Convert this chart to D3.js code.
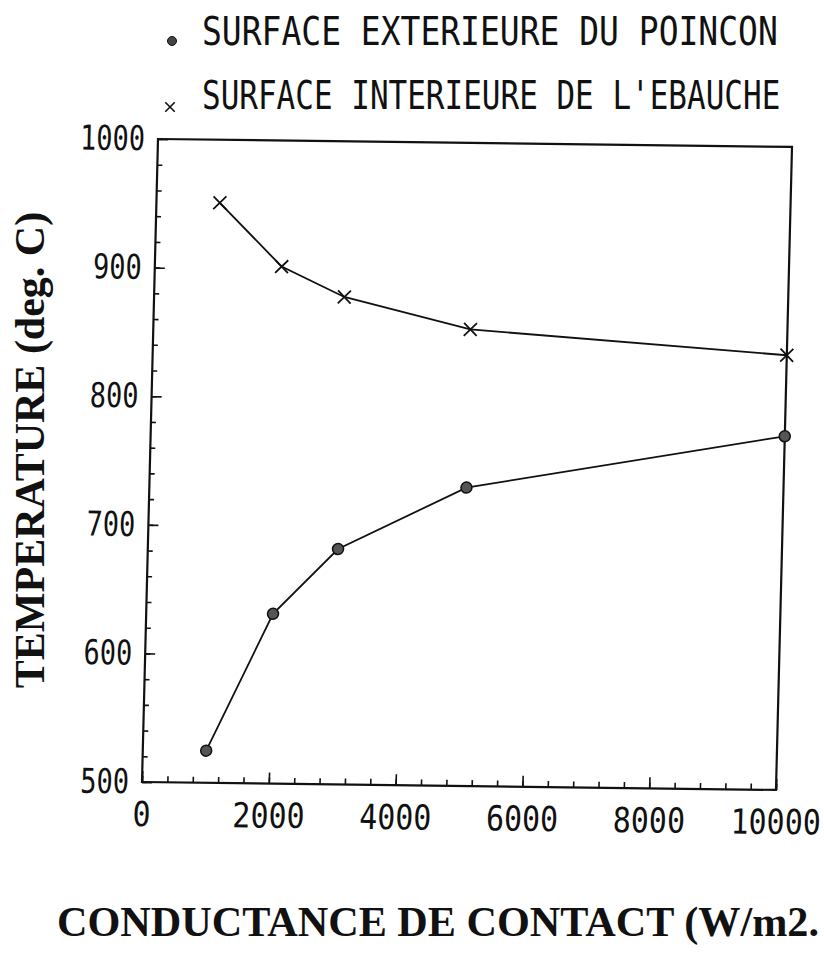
<!DOCTYPE html>
<html lang="fr">
<head>
<meta charset="UTF-8">
<title>Temperature vs conductance de contact</title>
<script src="https://cdn.jsdelivr.net/npm/d3@7"></script>
<style>
  body { margin: 0; background: #fff; }
  .plotter { font-family: "DejaVu Sans Mono", monospace; fill: #111; }
  .serif { font-family: "Liberation Serif", "Times New Roman", serif; font-weight: bold; fill: #111; }
</style>
</head>
<body>
<div id="chart"></div>
<script>
// data
const conductance = [1000, 2000, 3000, 5000, 10000];
const tempExterior = [525, 632, 683, 732, 775];   // surface exterieure du poincon
const tempInterior = [951, 902, 879, 855, 838];   // surface interieure de l'ebauche
const xTicks = [0, 2000, 4000, 6000, 8000, 10000];
const yTicks = [500, 600, 700, 800, 900, 1000];
const legendLabels = ["SURFACE EXTERIEURE DU POINCON", "SURFACE INTERIEURE DE L'EBAUCHE"];

const width = 824, height = 962;
const W = 634, H = 643;

const svg = d3.select("#chart").append("svg")
    .attr("width", width)
    .attr("height", height);

// the scan is a little skewed, so the plot frame is too
const plot = svg.append("g")
    .attr("transform", "matrix(1,0.0125,-0.0249,1,158,139)");

const x = d3.scaleLinear().domain([0, 10000]).range([0, W]);
const y = d3.scaleLinear().domain([500, 1000]).range([H, 0]);

// minor ticks
plot.append("g")
    .attr("transform", "translate(0," + H + ")")
    .call(d3.axisBottom(x).tickValues(d3.range(0, 10001, 400)).tickSize(-6).tickFormat(""))
    .call(g => g.select(".domain").remove());
plot.append("g")
    .call(d3.axisLeft(y).tickValues(d3.range(500, 1001, 20)).tickSize(-5).tickFormat(""))
    .call(g => g.select(".domain").remove());

// major ticks + labels (plotter font: narrow and tall)
const xAxis = plot.append("g")
    .attr("transform", "translate(0," + H + ")")
    .call(d3.axisBottom(x).tickValues(xTicks).tickSize(-11).tickPadding(17).tickFormat(d3.format("d")));
const yAxis = plot.append("g")
    .call(d3.axisLeft(y).tickValues(yTicks).tickSize(-10).tickPadding(13).tickFormat(d3.format("d")));

xAxis.select(".domain").remove();
yAxis.select(".domain").remove();
xAxis.selectAll("text")
    .attr("class", "plotter")
    .style("font-size", "30px")
    .attr("transform", "scale(1,1.15)");
yAxis.selectAll("text")
    .attr("class", "plotter")
    .style("font-size", "27px")
    .attr("transform", "scale(1,1.27)");
plot.selectAll(".tick line").attr("stroke", "#111").attr("stroke-width", 1.6);

// frame
plot.append("rect")
    .attr("width", W).attr("height", H)
    .attr("fill", "none")
    .attr("stroke", "#111")
    .attr("stroke-width", 2.2);

const line = d3.line()
    .x(d => x(d[0]))
    .y(d => y(d[1]));

const extPts = conductance.map((c, i) => [c, tempExterior[i]]);
const intPts = conductance.map((c, i) => [c, tempInterior[i]]);

plot.append("path").datum(extPts)
    .attr("d", line).attr("fill", "none")
    .attr("stroke", "#111").attr("stroke-width", 1.8);
plot.append("path").datum(intPts)
    .attr("d", line).attr("fill", "none")
    .attr("stroke", "#111").attr("stroke-width", 1.8);

plot.selectAll(".dot").data(extPts).enter().append("circle")
    .attr("class", "dot")
    .attr("cx", d => x(d[0])).attr("cy", d => y(d[1]))
    .attr("r", 5.5)
    .attr("fill", "#555").attr("stroke", "#111").attr("stroke-width", 1.5);

const cross = d3.symbol().type(d3.symbolTimes).size(110);
plot.selectAll(".cross").data(intPts).enter().append("path")
    .attr("class", "cross")
    .attr("transform", d => "translate(" + x(d[0]) + "," + y(d[1]) + ")")
    .attr("d", cross)
    .attr("fill", "none").attr("stroke", "#111").attr("stroke-width", 1.8);

// legend
const legend = svg.append("g");
legend.append("circle")
    .attr("cx", 172).attr("cy", 41).attr("r", 4.5)
    .attr("fill", "#444").attr("stroke", "#111");
legend.append("path")
    .attr("transform", "translate(170,107)")
    .attr("d", d3.symbol().type(d3.symbolTimes).size(60))
    .attr("fill", "none").attr("stroke", "#111").attr("stroke-width", 1.6);

const legSize = [33, 31];
legend.selectAll(".leg").data(legendLabels).enter().append("text")
    .attr("class", "plotter leg")
    .attr("transform", (d, i) => "translate(202," + (45 + i * 64) + ") scale(1," + (29 / (legSize[i] * 0.729)).toFixed(3) + ")")
    .style("font-size", (d, i) => legSize[i] + "px")
    .text(d => d);

// axis titles
svg.append("text")
    .attr("class", "serif")
    .attr("transform", "translate(44,450) rotate(-90)")
    .attr("text-anchor", "middle")
    .style("font-size", "42px")
    .text("TEMPERATURE (deg. C)");

svg.append("text")
    .attr("class", "serif")
    .attr("x", 57).attr("y", 936)
    .style("font-size", "42px")
    .attr("textLength", 762)
    .attr("lengthAdjust", "spacingAndGlyphs")
    .text("CONDUCTANCE DE CONTACT (W/m2.");
</script>
</body>
</html>
